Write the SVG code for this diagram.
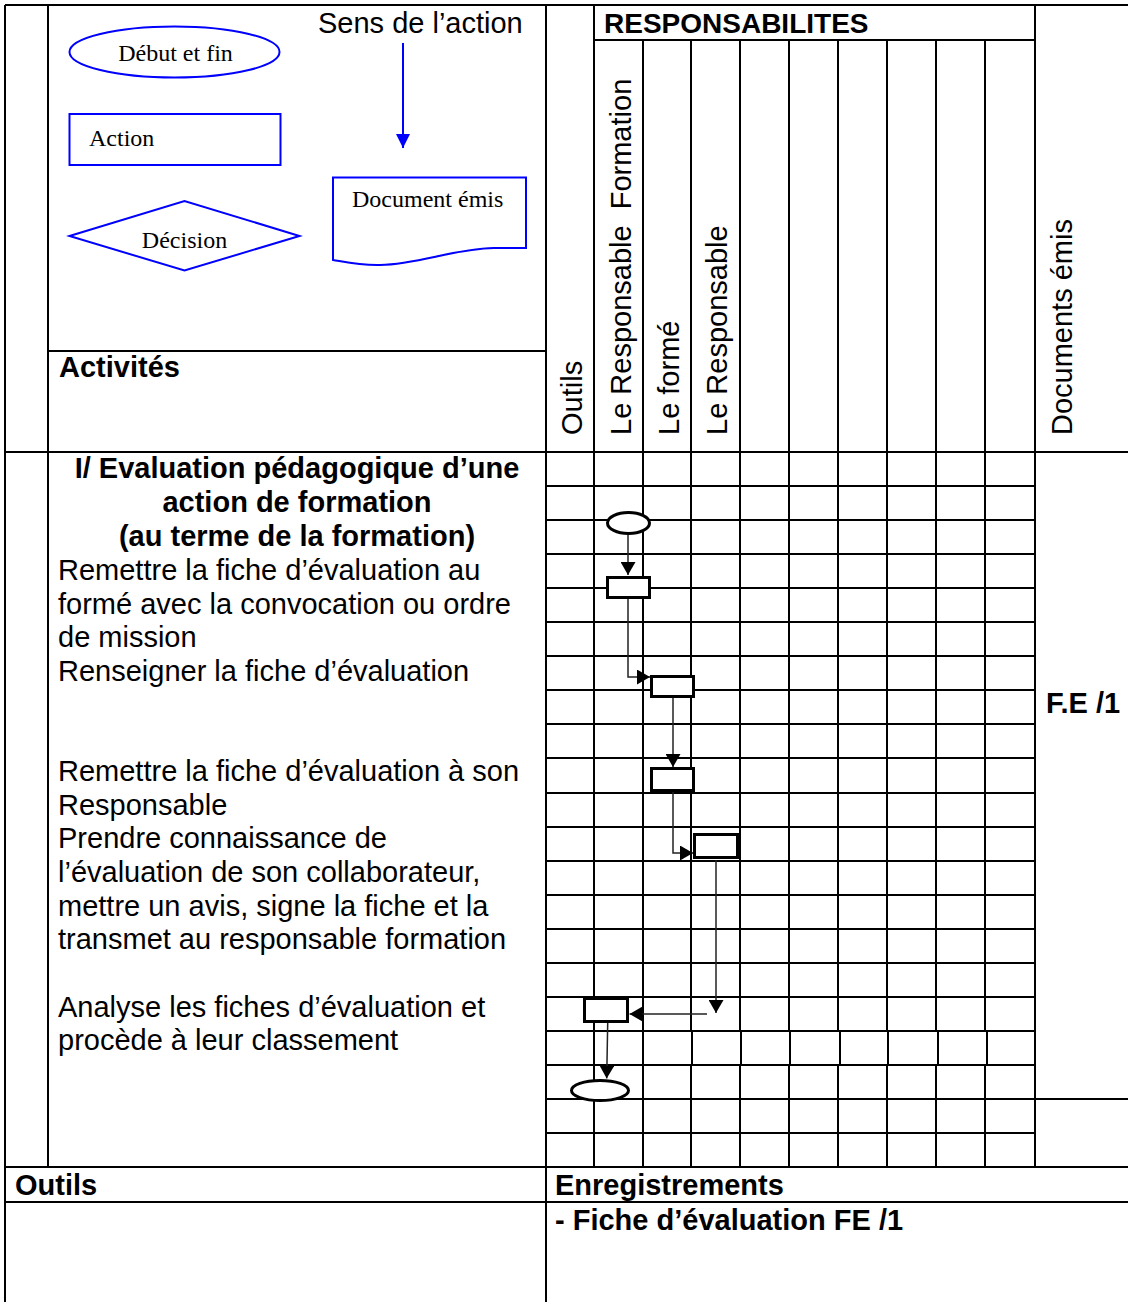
<svg xmlns="http://www.w3.org/2000/svg" width="1128" height="1302" viewBox="0 0 1128 1302">
<defs>
<marker id="ah" markerUnits="userSpaceOnUse" markerWidth="13" markerHeight="15" refX="13" refY="7.5" orient="auto"><path d="M0,0 L13,7.5 L0,15 Z" fill="#000"/></marker>
<marker id="ahb" markerUnits="userSpaceOnUse" markerWidth="15" markerHeight="15" refX="14" refY="7" orient="auto"><path d="M0,0 L14,7 L0,14 Z" fill="#0000ff"/></marker>
<style>
.t{font-family:"Liberation Sans",Arial,Helvetica,sans-serif;font-size:29px;fill:#000}
.b{font-weight:bold}
.s{font-family:"Liberation Serif","Times New Roman",serif;font-size:24px;fill:#000}
.g{stroke:#000;stroke-width:2;fill:none}
.lg{stroke:#0000ff;stroke-width:2;fill:#fff}
.fc{stroke:#000;stroke-width:3;fill:#fff}
.cn{stroke:#222;stroke-width:1.5;fill:none;marker-end:url(#ah)}
.pre{white-space:pre}
</style>
</defs>
<rect x="0" y="0" width="1128" height="1302" fill="#fff"/>

<g id="table">
<path class="g" d="M5,5H1128 M594,40H1035 M48,351H546 M5,452H1128 M1035,1099H1128 M5,1167H1128 M5,1202H1128
M546,486H1035 M546,520H1035 M546,554H1035 M546,588H1035 M546,622H1035 M546,656H1035 M546,690H1035 M546,724H1035 M546,758H1035 M546,793H1035 M546,827H1035 M546,861H1035 M546,895H1035 M546,929H1035 M546,963H1035 M546,997H1035 M546,1031H1035 M546,1065H1035 M546,1099H1035 M546,1133H1035
M5,5V1302 M48,5V1167 M546,5V1302 M594,5V1167 M1035,5V1167
M643,40V1167
M691,40V1031 M692,1031V1065 M691,1065V1167
M740,40V1031 M741,1031V1065 M740,1065V1167
M789,40V1031 M790,1031V1065 M789,1065V1167
M838,40V1031 M840,1031V1065 M838,1065V1167
M887,40V1031 M888,1031V1065 M887,1065V1167
M936,40V1031 M938,1031V1065 M936,1065V1167
M985,40V1031 M987,1031V1065 M985,1065V1167"/>
</g>

<g id="headers">
<text class="t" x="318" y="33">Sens de l’action</text>
<text class="t b" x="59" y="377">Activités</text>
<text class="t b" x="604" y="33" style="font-size:28px">RESPONSABILITES</text>
<text class="t" transform="translate(582,435) rotate(-90)">Outils</text>
<text class="t pre" transform="translate(631,435) rotate(-90)">Le Responsable  Formation</text>
<text class="t" transform="translate(679,435) rotate(-90)">Le formé</text>
<text class="t" transform="translate(727,435) rotate(-90)">Le Responsable</text>
<text class="t" transform="translate(1072,435) rotate(-90)">Documents émis</text>
<text class="t b" x="1046" y="713">F.E /1</text>
<text class="t b" x="15" y="1195">Outils</text>
<text class="t b" x="555" y="1195">Enregistrements</text>
<text class="t b" x="555" y="1230">- Fiche d’évaluation FE /1</text>
</g>

<g id="activities">
<text class="t b" text-anchor="middle" x="297" y="478">I/ Evaluation pédagogique d’une</text>
<text class="t b" text-anchor="middle" x="297" y="512">action de formation</text>
<text class="t b" text-anchor="middle" x="297" y="546">(au terme de la formation)</text>
<text class="t" x="58" y="580">Remettre la fiche d’évaluation au</text>
<text class="t" x="58" y="613.5">formé avec la convocation ou ordre</text>
<text class="t" x="58" y="647">de mission</text>
<text class="t" x="58" y="681">Renseigner la fiche d’évaluation</text>
<text class="t" x="58" y="781">Remettre la fiche d’évaluation à son</text>
<text class="t" x="58" y="814.5">Responsable</text>
<text class="t" x="58" y="848">Prendre connaissance de</text>
<text class="t" x="58" y="882">l’évaluation de son collaborateur,</text>
<text class="t" x="58" y="915.5">mettre un avis, signe la fiche et la</text>
<text class="t" x="58" y="949">transmet au responsable formation</text>
<text class="t" x="58" y="1016.5">Analyse les fiches d’évaluation et</text>
<text class="t" x="58" y="1050">procède à leur classement</text>
</g>

<g id="legend-start">
<ellipse class="lg" cx="174.5" cy="52" rx="105" ry="25.5"/>
<text class="s" text-anchor="middle" x="175.5" y="61">Début et fin</text>
</g>
<g id="legend-action">
<rect class="lg" x="69.5" y="114" width="211" height="51"/>
<text class="s" x="89" y="146">Action</text>
</g>
<g id="legend-decision">
<polygon class="lg" points="69.5,236 184.5,201 299.5,236 184.5,270.5"/>
<text class="s" text-anchor="middle" x="184.5" y="248">Décision</text>
</g>
<g id="legend-document">
<path class="lg" d="M333,177.5 H526 V248 H494 C452,249 420,264 380,265 C360,265.5 345,262 333,260 Z"/>
<text class="s" x="352" y="207">Document émis</text>
</g>
<g id="legend-direction">
<line x1="403" y1="43" x2="403" y2="148" stroke="#0000ff" stroke-width="2" marker-end="url(#ahb)"/>
</g>

<g id="connectors">
<path class="cn" d="M628,535 V575"/>
<path class="cn" d="M628,596 V677 H650"/>
<path class="cn" d="M673,698 V767"/>
<path class="cn" d="M673,789 V853 H693"/>
<path class="cn" d="M716,860 V1013"/>
<path class="cn" d="M707,1014 H629.5"/>
<path class="cn" d="M607.7,1023 L606.7,1078.5"/>
</g>

<g id="n-start"><ellipse class="fc" cx="628.5" cy="523" rx="21" ry="10.5"/></g>
<g id="n-remettre"><rect class="fc" x="607.5" y="577.5" width="42" height="20"/></g>
<g id="n-renseigner"><rect class="fc" x="651.5" y="676.5" width="42" height="20"/></g>
<g id="n-remettre-resp"><rect class="fc" x="651.5" y="768.5" width="42" height="22"/></g>
<g id="n-avis"><rect class="fc" x="694.5" y="834.5" width="43" height="23"/></g>
<g id="n-analyse"><rect class="fc" x="584.5" y="998.5" width="43" height="23"/></g>
<g id="n-end"><ellipse class="fc" cx="600" cy="1090.5" rx="28.5" ry="10"/></g>
</svg>
